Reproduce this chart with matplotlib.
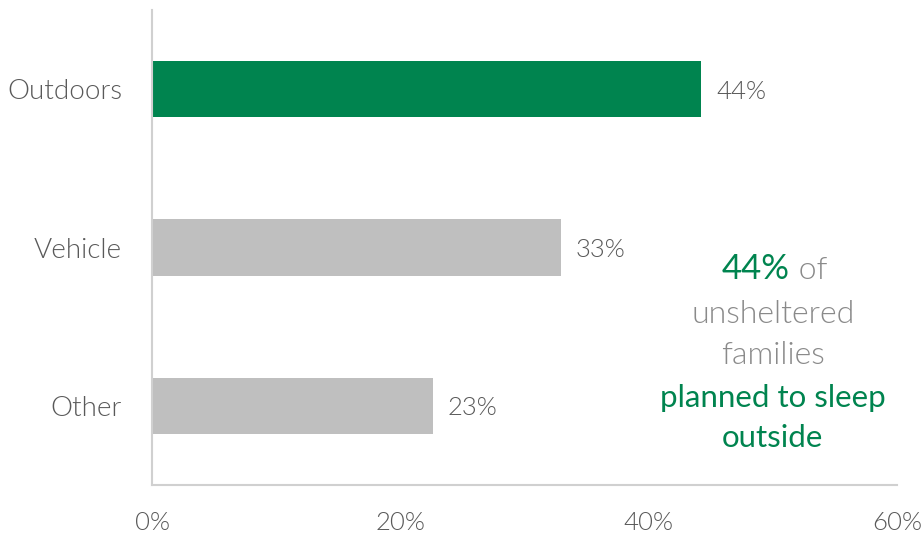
import numpy as np
import matplotlib.pyplot as plt
from matplotlib.ticker import FuncFormatter

# Данные
categories = ['Outdoors', 'Vehicle', 'Other']
shares = [44.2, 32.9, 22.6]
bar_colors = ['#00844F', '#BFBFBF', '#BFBFBF']

green = '#00844F'
label_gray = '#595959'
note_gray = '#8A8A8A'

plt.rcParams['font.family'] = ['Lato', 'DejaVu Sans']

fig = plt.figure(figsize=(9.22, 5.37), dpi=100)
ax = fig.add_axes([152 / 922, 52 / 537, 745 / 922, 475 / 537])

y = np.arange(len(categories))
bars = ax.barh(y, shares, height=0.355, color=bar_colors)
ax.set_ylim(2.5, -0.5)
ax.set_xlim(0, 60)
ax.set_yticks(y)
ax.set_yticklabels(categories, fontsize=20, fontweight=300)
ax.set_xticks([0, 20, 40, 60])
ax.xaxis.set_major_formatter(FuncFormatter(lambda v, p: f'{v:.0f}%'))
for lab in ax.get_xticklabels():
    lab.set_fontsize(18.5)
    lab.set_fontweight(300)

ax.tick_params(length=0, colors=label_gray)
ax.tick_params(axis='y', pad=21.5)
ax.tick_params(axis='x', pad=19)
for s in ['top', 'right']:
    ax.spines[s].set_visible(False)
for s in ['left', 'bottom']:
    ax.spines[s].set_color('#D0D0D0')
    ax.spines[s].set_linewidth(1.5)

# Подписи значений
for b, v in zip(bars, shares):
    ax.annotate(f'{v:.0f}%', xy=(b.get_width(), b.get_y() + b.get_height() / 2),
                xytext=(11, 0), textcoords='offset points',
                va='center_baseline', ha='left', fontsize=18.5, fontweight=300,
                color=label_gray)

# Пояснение справа
t44 = ax.text(51.38, 1.20, '44%', ha='right', va='baseline', fontsize=25, color=green)
ax.annotate(' of', xy=(1, 0), xycoords=t44, va='bottom', ha='left',
            fontsize=23, fontweight=300, color=note_gray)
ax.text(50.0, 1.477, 'unsheltered', ha='center', va='baseline', fontsize=23,
        fontweight=300, color=note_gray)
ax.text(50.0, 1.735, 'families', ha='center', va='baseline', fontsize=23,
        fontweight=300, color=note_gray)
ax.text(50.0, 2.01, 'planned to sleep', ha='center', va='baseline', fontsize=22.5, color=green)
ax.text(50.0, 2.26, 'outside', ha='center', va='baseline', fontsize=22.5, color=green)

fig.savefig('out.png', dpi=100)
